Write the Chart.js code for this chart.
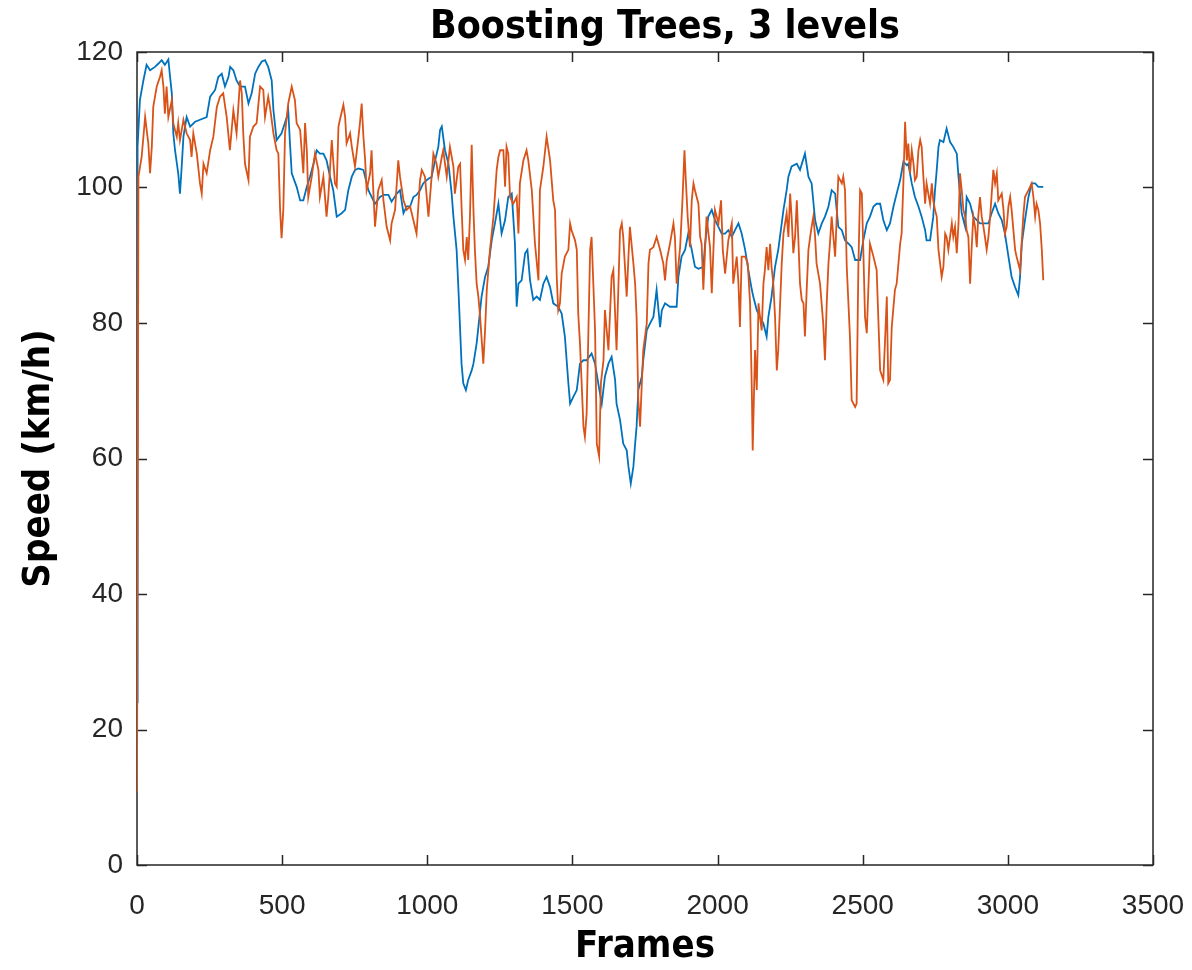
<!DOCTYPE html>
<html>
<head>
<meta charset="utf-8">
<title>Boosting Trees, 3 levels</title>
<script src="https://cdn.jsdelivr.net/npm/chart.js@4.4.1/dist/chart.umd.min.js"></script>
<style>
  html, body { margin: 0; padding: 0; background: #ffffff; }
  #wrap { width: 1192px; height: 970px; }
</style>
</head>
<body>
<div id="wrap"><canvas id="chart" width="1192" height="970"></canvas></div>
<script>
// Reference speed (blue) sampled by frame
const blueFrames = [0,2,10,22,33,45,62,74,85,96,108,114,120,125,131,142,148,154,160,171,183,200,217,240,252,269,280,292,303,315,321,332,343,355,372,384,395,407,418,430,441,452,464,470,481,498,516,521,527,533,550,562,573,585,596,608,619,630,642,653,665,676,688,705,717,728,740,751,763,780,797,820,837,849,866,877,895,906,918,929,941,952,963,975,986,998,1015,1027,1038,1044,1050,1061,1073,1084,1090,1101,1107,1118,1124,1133,1141,1153,1159,1170,1176,1187,1199,1210,1222,1233,1245,1256,1268,1279,1291,1302,1308,1314,1325,1337,1345,1354,1365,1377,1388,1400,1411,1423,1434,1451,1463,1474,1486,1492,1503,1515,1526,1538,1549,1566,1578,1589,1601,1612,1624,1635,1647,1652,1664,1675,1687,1693,1701,1710,1716,1721,1727,1739,1744,1756,1767,1779,1790,1802,1808,1819,1836,1859,1865,1876,1888,1899,1911,1922,1934,1951,1957,1968,1980,1991,2003,2014,2026,2037,2049,2060,2072,2083,2095,2106,2118,2123,2135,2146,2158,2169,2175,2186,2198,2209,2221,2227,2238,2244,2255,2273,2284,2301,2313,2324,2336,2347,2359,2370,2382,2393,2405,2416,2428,2439,2451,2462,2474,2491,2502,2514,2525,2537,2548,2560,2571,2583,2594,2606,2617,2629,2640,2652,2657,2669,2680,2692,2703,2715,2720,2732,2743,2749,2755,2761,2766,2778,2789,2801,2812,2824,2830,2835,2841,2853,2858,2870,2881,2893,2904,2921,2933,2944,2956,2967,2979,2990,3002,3013,3025,3036,3042,3048,3059,3071,3082,3094,3105,3122];
const blueSpeed = [24,106.0,112.9,115.8,118.1,117.3,117.8,118.3,118.8,118.1,118.9,116.3,113.9,108.0,105.5,102.1,99.1,103.1,107.5,110.4,109.0,109.7,110.0,110.4,113.4,114.4,116.3,116.8,114.9,116.3,117.8,117.3,115.8,114.9,114.9,112.4,113.9,116.8,117.8,118.6,118.8,117.8,115.8,111.4,107.0,108.0,110.4,111.4,106.5,102.1,100.1,98.1,98.1,100.1,101.6,103.5,105.5,105.0,105.0,104.0,101.6,99.6,95.7,96.2,96.7,99.6,101.6,102.6,102.8,102.6,99.6,97.6,98.6,98.9,98.9,97.9,99.1,99.6,96.2,97.2,97.2,98.6,98.9,99.6,100.6,101.1,101.6,104.0,106.0,108.5,109.0,105.5,103.5,99.1,95.7,90.8,85.3,74.0,71.1,70.1,71.6,73.0,74.0,77.0,79.4,83.9,86.8,88.3,92.2,94.7,97.6,93.2,95.2,98.6,99.1,91.7,82.4,85.8,86.3,90.3,90.8,86.3,83.4,83.9,83.4,85.8,86.8,85.3,82.9,82.4,81.4,78.0,71.1,68.1,69.1,70.1,74.0,74.5,74.5,75.5,74.0,71.1,68.1,72.1,74.0,75.0,71.6,68.1,65.7,62.2,61.2,58.8,56.3,58.8,62.2,64.7,70.1,72.1,74.5,78.9,79.9,80.9,84.9,79.4,81.9,82.9,82.4,82.4,86.8,89.8,90.8,93.2,90.8,88.3,88.0,88.3,91.7,95.7,96.7,95.2,94.2,93.2,93.2,93.7,92.7,93.7,94.7,93.2,90.8,87.8,84.9,83.9,81.9,80.9,79.9,78.0,80.9,83.9,88.3,90.8,94.7,96.7,99.6,101.6,103.1,103.5,102.6,105.0,101.6,100.6,95.2,93.2,94.7,95.7,97.2,99.6,99.1,94.2,93.7,92.2,91.7,91.2,89.3,89.3,92.2,94.7,95.7,97.2,97.6,97.6,95.2,93.7,94.7,97.2,99.1,101.1,103.8,103.3,103.5,100.6,98.6,97.2,95.7,93.7,92.2,92.2,95.7,99.6,102.6,106.0,107.0,106.7,108.7,106.7,106.0,105.0,101.6,99.1,96.2,94.2,98.6,97.6,95.7,95.2,94.7,94.7,94.7,96.2,97.6,96.2,95.2,93.2,89.8,86.8,85.3,84.1,86.8,91.7,95.2,98.6,100.6,100.6,100.1,100.1];

// Boosted-tree prediction (orange) sampled by frame
const orangeFrames = [0,5,16,28,39,45,51,56,68,79,85,91,96,102,108,120,125,137,142,148,160,171,183,188,194,206,217,223,229,240,252,263,275,286,297,309,320,332,343,355,361,366,372,384,389,401,412,424,435,441,452,458,470,481,487,493,498,504,510,521,533,544,550,562,573,579,585,590,602,613,625,630,642,653,659,671,676,682,688,694,699,711,717,722,734,740,751,763,768,774,780,786,791,803,808,814,820,831,843,849,860,872,877,889,900,906,918,929,941,952,963,975,981,992,1004,1015,1021,1032,1038,1050,1055,1067,1078,1090,1095,1107,1113,1118,1124,1130,1136,1141,1147,1153,1159,1164,1170,1176,1182,1193,1199,1205,1216,1228,1239,1245,1251,1262,1268,1273,1279,1285,1296,1308,1314,1319,1331,1342,1348,1360,1371,1383,1388,1400,1411,1423,1434,1440,1446,1451,1457,1463,1474,1486,1492,1497,1509,1515,1520,1526,1538,1543,1549,1561,1566,1572,1578,1584,1592,1598,1607,1612,1624,1635,1641,1652,1664,1670,1675,1681,1687,1693,1698,1710,1716,1721,1727,1733,1739,1744,1756,1762,1767,1779,1790,1802,1813,1819,1825,1836,1848,1853,1859,1871,1879,1886,1890,1897,1905,1911,1917,1922,1934,1940,1945,1951,1962,1974,1980,1991,2003,2012,2018,2026,2037,2049,2054,2066,2072,2077,2083,2095,2104,2112,2118,2121,2126,2129,2135,2141,2146,2152,2158,2163,2169,2175,2181,2186,2192,2198,2204,2209,2215,2221,2227,2238,2244,2250,2255,2261,2267,2273,2278,2284,2290,2296,2301,2307,2313,2319,2324,2330,2336,2341,2347,2353,2364,2370,2376,2382,2387,2393,2399,2405,2416,2428,2433,2439,2445,2456,2462,2474,2479,2485,2491,2497,2508,2514,2525,2537,2548,2560,2571,2577,2583,2588,2594,2600,2611,2617,2629,2634,2640,2646,2652,2657,2663,2669,2675,2680,2686,2692,2698,2703,2709,2715,2720,2726,2732,2738,2743,2749,2755,2761,2772,2778,2784,2789,2795,2807,2812,2818,2824,2830,2835,2841,2847,2853,2858,2864,2870,2875,2881,2887,2893,2898,2904,2910,2916,2921,2927,2933,2939,2950,2956,2962,2967,2979,2985,2990,2996,3002,3008,3013,3025,3030,3042,3053,3059,3071,3082,3088,3094,3099,3105,3111,3117,3122];
const orangeSpeed = [10.7,101.6,104.5,110.4,106.5,102.1,106.0,111.9,114.9,116.3,117.3,114.9,110.9,114.9,110.4,112.9,109.5,107.5,109.5,107.0,110.0,108.0,107.0,104.5,108.0,105.0,100.6,99.1,103.5,102.1,105.5,107.5,111.9,113.4,113.9,110.4,105.5,111.4,108.0,115.8,113.9,108.0,103.5,101.1,107.5,109.0,109.5,114.9,114.4,110.4,113.4,111.9,108.0,105.5,105.0,96.7,92.5,96.7,108.0,112.4,114.9,112.9,109.5,108.5,102.1,109.5,105.5,98.6,101.6,105.0,102.6,98.6,101.6,95.7,98.6,107.0,104.0,100.6,100.1,109.0,110.0,112.2,110.4,106.5,108.0,106.0,103.1,107.5,109.5,112.4,107.5,104.0,99.6,102.1,105.5,99.6,94.2,99.6,101.1,98.1,94.2,92.2,94.7,96.7,104.0,101.6,98.1,96.7,97.2,95.2,93.2,101.1,102.6,101.6,95.7,101.6,105.0,103.5,101.6,104.5,105.5,101.6,106.0,103.1,99.1,103.1,103.5,97.2,90.8,89.3,92.7,89.3,95.7,106.3,96.7,90.8,85.8,83.9,80.9,74.0,78.9,84.9,90.8,95.7,102.6,104.5,105.5,105.5,100.1,106.0,105.0,98.6,97.6,98.6,93.2,100.6,104.0,105.5,104.0,99.6,91.7,86.3,99.6,103.1,107.5,104.0,98.1,96.7,86.8,81.9,82.9,87.3,89.8,90.8,94.7,93.7,92.2,90.8,81.4,77.0,64.7,63.2,66.7,90.8,92.7,85.8,78.9,62.2,60.3,71.1,74.5,81.9,76.0,86.8,87.8,76.0,93.7,94.7,92.7,88.3,83.9,89.8,94.2,88.8,85.8,80.9,68.6,64.7,71.1,76.0,79.9,88.8,90.8,91.2,92.7,90.8,88.8,86.3,89.3,91.7,94.7,92.7,85.8,91.2,98.1,105.5,101.6,95.7,91.2,98.1,100.6,99.6,97.6,92.7,91.7,84.9,95.7,91.2,84.4,96.7,94.7,98.1,90.8,87.3,92.2,94.7,85.8,89.8,85.8,79.4,89.8,89.8,88.8,82.9,70.0,61.2,70.6,76.0,70.1,82.9,80.9,78.9,85.8,87.8,91.2,87.8,91.7,88.3,85.8,80.9,73.0,76.0,82.4,88.8,93.2,96.2,92.7,99.1,95.7,90.3,92.7,98.1,92.7,85.8,83.4,82.9,78.0,84.9,90.8,92.7,94.2,95.7,92.7,88.8,87.3,85.8,79.9,74.5,82.9,88.8,91.7,95.7,92.7,89.8,101.6,100.6,101.6,99.6,88.3,78.0,68.6,67.6,68.1,88.3,99.6,99.1,80.9,78.5,91.7,89.8,87.8,73.0,71.6,77.5,83.9,71.1,71.6,79.4,84.9,85.8,91.7,93.2,100.6,109.7,104.0,106.5,102.1,105.5,103.5,101.1,101.6,105.5,107.0,106.0,101.6,97.6,100.6,99.1,97.6,100.6,98.1,96.7,95.7,90.8,86.8,88.3,93.2,92.7,90.8,94.7,92.7,94.2,90.3,94.7,102.1,99.6,96.7,95.7,93.7,92.7,85.8,90.8,95.7,94.2,91.2,95.7,98.6,95.7,94.2,92.7,90.8,92.7,95.7,102.6,100.6,102.1,98.1,99.1,96.7,93.2,94.2,97.2,98.6,96.7,90.8,89.8,87.8,95.7,98.6,99.6,100.6,98.6,95.7,97.6,96.7,94.7,90.8,86.3];

// Axis ranges and tick spacing
const xRange = [0, 3500];
const xStep = 500;
const yRange = [0, 120];
const yStep = 20;

const titleText = 'Boosting Trees, 3 levels';
const xTitle = 'Frames';
const yTitle = 'Speed (km/h)';

const BLUE = '#0072BD';
const ORANGE = '#D95319';
const AXIS = '#262626';
const boldFamily = "'DejaVu Sans Condensed', 'DejaVu Sans', sans-serif";
const tickFamily = "'Liberation Sans', Arial, sans-serif";

const toPoints = (xs, ys) => xs.map((f, i) => ({ x: f, y: ys[i] }));

// Boxed axes with inward tick marks on all four sides, plus the title
const boxAxes = {
  id: 'boxAxes',
  beforeDatasetsDraw(chart) {
    const { ctx, chartArea: a, scales } = chart;
    const len = 10;
    ctx.save();
    ctx.strokeStyle = AXIS;
    ctx.lineWidth = 1.5;
    ctx.beginPath();
    ctx.rect(a.left, a.top, a.right - a.left, a.bottom - a.top);
    scales.x.ticks.forEach(t => {
      const px = Math.round(scales.x.getPixelForValue(t.value)) + 0.5;
      ctx.moveTo(px, a.bottom); ctx.lineTo(px, a.bottom - len);
      ctx.moveTo(px, a.top); ctx.lineTo(px, a.top + len);
    });
    scales.y.ticks.forEach(t => {
      const py = Math.round(scales.y.getPixelForValue(t.value)) + 0.5;
      ctx.moveTo(a.left, py); ctx.lineTo(a.left + len, py);
      ctx.moveTo(a.right, py); ctx.lineTo(a.right - len, py);
    });
    ctx.stroke();
    ctx.restore();
  },
  afterDraw(chart) {
    const { ctx, chartArea: a } = chart;
    ctx.save();
    ctx.fillStyle = '#000000';
    ctx.font = 'bold 39px ' + boldFamily;
    ctx.textAlign = 'center';
    ctx.textBaseline = 'middle';
    ctx.fillText(titleText, (a.left + a.right) / 2 + 20, 28);
    ctx.restore();
  }
};

new Chart(document.getElementById('chart'), {
  type: 'line',
  data: {
    datasets: [
      {
        label: 'Reference',
        data: toPoints(blueFrames, blueSpeed),
        borderColor: BLUE,
        borderWidth: 1.8,
        pointRadius: 0,
        tension: 0,
        order: 1
      },
      {
        label: 'Prediction',
        data: toPoints(orangeFrames, orangeSpeed),
        borderColor: ORANGE,
        borderWidth: 1.8,
        pointRadius: 0,
        tension: 0,
        order: 0
      }
    ]
  },
  options: {
    responsive: false,
    animation: false,
    layout: { padding: { top: 52, right: 39, left: 0, bottom: 0 } },
    plugins: {
      legend: { display: false },
      tooltip: { enabled: false },
      title: { display: false }
    },
    scales: {
      x: {
        type: 'linear',
        min: xRange[0],
        max: xRange[1],
        grid: { display: false, drawTicks: false },
        border: { display: false },
        ticks: {
          stepSize: xStep,
          padding: 24,
          color: AXIS,
          font: { family: tickFamily, size: 28 },
          maxRotation: 0,
          callback: v => String(v)
        },
        title: {
          display: true,
          text: xTitle,
          color: '#000000',
          font: { family: boldFamily, size: 38, weight: 'bold' },
          padding: { top: 0, bottom: 0 }
        },
        afterFit(s) { s.height = 105; s.paddingLeft = 0; s.paddingRight = 0; }
      },
      y: {
        type: 'linear',
        min: yRange[0],
        max: yRange[1],
        grid: { display: false, drawTicks: false },
        border: { display: false },
        ticks: {
          stepSize: yStep,
          padding: 14,
          color: AXIS,
          font: { family: tickFamily, size: 28 },
          callback: v => String(v)
        },
        title: {
          display: true,
          text: yTitle,
          color: '#000000',
          font: { family: boldFamily, size: 38, weight: 'bold' },
          padding: { top: 16, bottom: 0 }
        },
        afterFit(s) { s.width = 137; s.paddingTop = 0; s.paddingBottom = 0; }
      }
    }
  },
  plugins: [boxAxes]
});
</script>
</body>
</html>
